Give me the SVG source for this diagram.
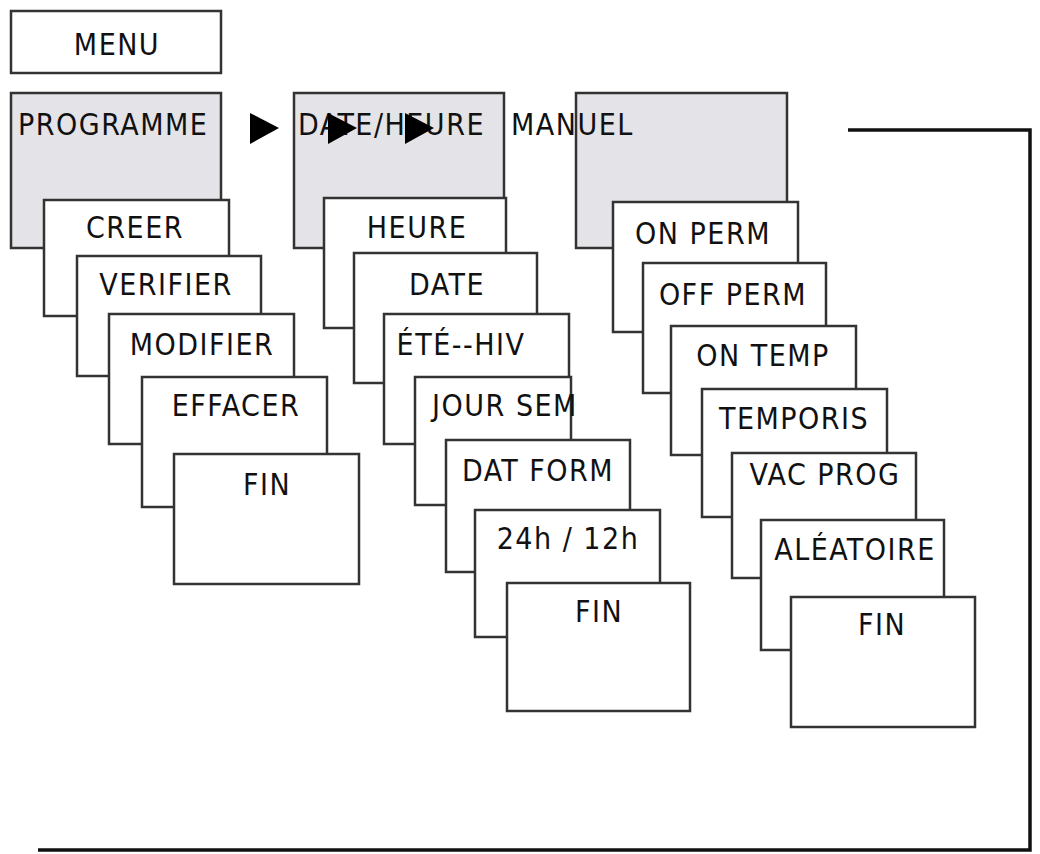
<svg xmlns="http://www.w3.org/2000/svg" width="1040" height="854" viewBox="0 0 1040 854">
<style>
rect{stroke:#333;stroke-width:2.5;fill:#fff}
rect.g{fill:#e4e4e8}
text{font-family:"DejaVu Sans Condensed","DejaVu Sans",sans-serif;font-size:30px;letter-spacing:1.5px;fill:#111}
.c{text-anchor:middle}
.a{fill:#000}
</style>
<rect x="0" y="0" width="1040" height="854" style="fill:#fff;stroke:none"/>
<g id="menu"><rect x="11" y="11" width="210" height="62"/><text class="c" x="117" y="55">MENU</text></g>
<g id="programme"><rect class="g" x="11" y="93" width="210" height="155"/></g>
<g id="dateheure"><rect class="g" x="294" y="93" width="210" height="155"/></g>
<g id="manuel"><rect class="g" x="576" y="93" width="211" height="155"/></g>
<g id="labels">
<text x="18" y="135">PROGRAMME</text>
<text x="298" y="135">DATE/HEURE</text>
<text x="511" y="135">MANUEL</text>
</g>
<g id="connectors">
<polygon class="a" points="250,113 279,128 250,144"/>
<polygon class="a" points="328,113 357,128 328,144"/>
<polygon class="a" points="405,113 434,128 405,144"/>
<polyline points="848,130 1030,130 1030,850 38,850" fill="none" stroke="#111" stroke-width="3.5"/>
</g>
<g id="creer"><rect x="44" y="200" width="185" height="116"/><text class="c" x="135" y="238">CREER</text></g>
<g id="verifier"><rect x="77" y="256" width="184" height="120"/><text class="c" x="166" y="295">VERIFIER</text></g>
<g id="modifier"><rect x="109" y="314" width="185" height="130"/><text class="c" x="202" y="355">MODIFIER</text></g>
<g id="effacer"><rect x="142" y="377" width="185" height="130"/><text class="c" x="236" y="416">EFFACER</text></g>
<g id="fin1"><rect x="174" y="454" width="185" height="130"/><text class="c" x="267" y="495">FIN</text></g>
<g id="heure"><rect x="324" y="198" width="182" height="130"/><text class="c" x="417" y="238">HEURE</text></g>
<g id="date"><rect x="354" y="253" width="183" height="130"/><text class="c" x="447" y="295">DATE</text></g>
<g id="etehiv"><rect x="384" y="314" width="185" height="130"/><text class="c" x="461" y="355">ÉTÉ--HIV</text></g>
<g id="joursem"><rect x="415" y="377" width="156" height="128"/><text class="c" x="505" y="416">JOUR SEM</text></g>
<g id="datform"><rect x="446" y="440" width="184" height="132"/><text class="c" x="538" y="481">DAT FORM</text></g>
<g id="h24"><rect x="475" y="510" width="185" height="127"/><text class="c" x="568" y="549">24h / 12h</text></g>
<g id="fin2"><rect x="507" y="583" width="183" height="128"/><text class="c" x="599" y="622">FIN</text></g>
<g id="onperm"><rect x="613" y="202" width="185" height="130"/><text class="c" x="703" y="244">ON PERM</text></g>
<g id="offperm"><rect x="643" y="263" width="183" height="130"/><text class="c" x="733" y="305">OFF PERM</text></g>
<g id="ontemp"><rect x="671" y="326" width="185" height="129"/><text class="c" x="763" y="366">ON TEMP</text></g>
<g id="temporis"><rect x="702" y="389" width="185" height="128"/><text class="c" x="794" y="429">TEMPORIS</text></g>
<g id="vacprog"><rect x="732" y="453" width="184" height="125"/><text class="c" x="825" y="485">VAC PROG</text></g>
<g id="aleatoire"><rect x="761" y="520" width="183" height="130"/><text class="c" x="855" y="560">ALÉATOIRE</text></g>
<g id="fin3"><rect x="791" y="597" width="184" height="130"/><text class="c" x="882" y="635">FIN</text></g>
</svg>
